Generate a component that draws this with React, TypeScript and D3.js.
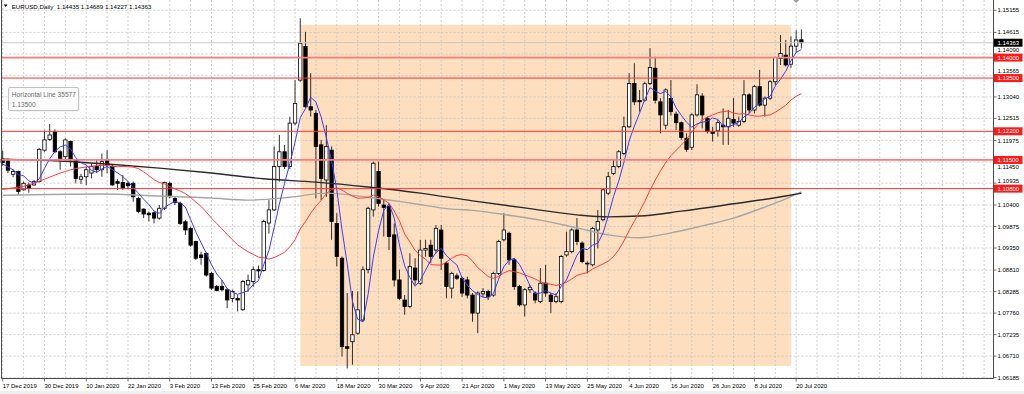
import React from "react";
import * as d3 from "d3";

// ---- Data (daily EURUSD, 17 Dec 2019 .. 21 Jul 2020) ----
const opens = [
  1.1152, 1.1148, 1.1115, 1.1122, 1.1077, 1.1089, 1.1089, 1.1097, 1.1174, 1.12,
  1.1219, 1.117, 1.1158, 1.1195, 1.115, 1.1103, 1.1109, 1.1118, 1.1134, 1.1126,
  1.115, 1.1134, 1.1097, 1.1095, 1.1093, 1.1093, 1.1056, 1.103, 1.102, 1.1021,
  1.1008, 1.1032, 1.1093, 1.1056, 1.1044, 1.0999, 1.0983, 1.0951, 1.0918, 1.0922,
  1.0873, 1.0841, 1.0841, 1.0833, 1.0812, 1.0812, 1.0784, 1.0845, 1.0853, 1.0882,
  1.088, 1.0996, 1.1028, 1.1134, 1.117, 1.1134, 1.124, 1.1345, 1.1427, 1.128,
  1.1264, 1.1187, 1.1101, 1.1174, 1.0995, 1.091, 1.0694, 1.0706, 1.0727, 1.0759,
  1.0882, 1.1028, 1.1122, 1.104, 1.1036, 1.0967, 1.0857, 1.0808, 1.0792, 1.0886,
  1.0849, 1.093, 1.0942, 1.093, 1.0979, 1.0898, 1.0837, 1.0867, 1.0861, 1.0857,
  1.082, 1.0776, 1.0823, 1.0829, 1.082, 1.0873, 1.0955, 1.0971, 1.0906, 1.0841,
  1.0796, 1.0833, 1.0825, 1.0804, 1.0849, 1.082, 1.0804, 1.0804, 1.0918, 1.0926,
  1.0979, 1.0947, 1.0898, 1.0894, 1.0979, 1.1004, 1.1069, 1.1117, 1.1134, 1.1166,
  1.1231, 1.1337, 1.1295, 1.1296, 1.1337, 1.1374, 1.1292, 1.1235, 1.13, 1.1262,
  1.1241, 1.1203, 1.1181, 1.126, 1.1306, 1.1252, 1.1219, 1.1221, 1.1235, 1.1231,
  1.1249, 1.1235, 1.1244, 1.1309, 1.1272, 1.1329, 1.1284, 1.1301, 1.1341, 1.1398,
  1.1406, 1.1384, 1.1428, 1.14435,
];
const highs = [
  1.1173, 1.1154, 1.1127, 1.1124, 1.1097, 1.1095, 1.1101, 1.1179, 1.1222, 1.1238,
  1.1225, 1.1174, 1.1203, 1.1197, 1.1152, 1.1116, 1.1134, 1.1142, 1.115, 1.1166,
  1.1174, 1.1138, 1.1103, 1.1113, 1.1097, 1.1097, 1.106, 1.1032, 1.1024, 1.1024,
  1.104, 1.1097, 1.1097, 1.106, 1.1048, 1.1004, 1.0987, 1.0953, 1.0926, 1.0924,
  1.0877, 1.0845, 1.0857, 1.0837, 1.0833, 1.082, 1.0857, 1.087, 1.089, 1.0892,
  1.1004, 1.1052, 1.1183, 1.1211, 1.1187, 1.1256, 1.1345, 1.1496, 1.1463, 1.1362,
  1.1272, 1.1199, 1.1235, 1.1183, 1.102, 1.0914, 1.0825, 1.083, 1.0829, 1.089,
  1.1036, 1.1146, 1.1146, 1.1052, 1.1044, 1.0995, 1.0882, 1.082, 1.0922, 1.091,
  1.0955, 1.0955, 1.0955, 1.0991, 1.0991, 1.0902, 1.0877, 1.0873, 1.0865, 1.0865,
  1.0825, 1.0829, 1.0837, 1.0833, 1.0877, 1.0955, 1.102, 1.0975, 1.091, 1.0845,
  1.0837, 1.0845, 1.0829, 1.0886, 1.0894, 1.0825, 1.0825, 1.0918, 1.0975, 1.0983,
  1.1008, 1.0951, 1.0902, 1.0987, 1.1028, 1.1081, 1.1121, 1.115, 1.1174, 1.1256,
  1.1362, 1.1386, 1.1321, 1.1341, 1.1423, 1.1402, 1.1301, 1.1325, 1.1345, 1.1268,
  1.1244, 1.1215, 1.1264, 1.1335, 1.1313, 1.1256, 1.1231, 1.1248, 1.1276, 1.1272,
  1.1301, 1.1256, 1.1345, 1.1313, 1.1333, 1.137, 1.1305, 1.1345, 1.1402, 1.1455,
  1.1443, 1.1452, 1.1467, 1.14689,
];
const lows = [
  1.1136, 1.1118, 1.1108, 1.1065, 1.1075, 1.107, 1.1087, 1.1095, 1.117, 1.1197,
  1.1166, 1.1126, 1.1146, 1.1134, 1.1093, 1.1091, 1.1089, 1.1105, 1.1118, 1.1109,
  1.1118, 1.1087, 1.1077, 1.1077, 1.1078, 1.1048, 1.102, 1.1008, 1.1, 1.0995,
  1.1004, 1.1028, 1.1056, 1.104, 1.0991, 1.0967, 1.0938, 1.0906, 1.0894, 1.0865,
  1.0833, 1.0829, 1.0829, 1.0788, 1.0802, 1.078, 1.0782, 1.0828, 1.084, 1.0862,
  1.0877, 1.097, 1.1025, 1.1097, 1.1128, 1.1128, 1.1235, 1.1341, 1.1276, 1.1256,
  1.1056, 1.1052, 1.106, 1.0955, 1.089, 1.067, 1.0641, 1.065, 1.0723, 1.0755,
  1.0873, 1.1012, 1.1036, 1.0963, 1.093, 1.0841, 1.0808, 1.0772, 1.0788, 1.0845,
  1.0845, 1.0914, 1.0898, 1.0922, 1.0881, 1.0812, 1.0812, 1.0857, 1.0816, 1.0812,
  1.0755, 1.0727, 1.0816, 1.0808, 1.0816, 1.0869, 1.0951, 1.0894, 1.0833, 1.0792,
  1.0768, 1.0825, 1.08, 1.08, 1.0816, 1.0776, 1.08, 1.08, 1.0914, 1.0922,
  1.0942, 1.0898, 1.0873, 1.089, 1.0934, 1.1, 1.1064, 1.1113, 1.113, 1.1162,
  1.1228, 1.1284, 1.1268, 1.1292, 1.1333, 1.1288, 1.1215, 1.1225, 1.1258, 1.1223,
  1.1199, 1.117, 1.1174, 1.1256, 1.1227, 1.1215, 1.1195, 1.1207, 1.1187, 1.1187,
  1.1231, 1.1231, 1.124, 1.1264, 1.1264, 1.128, 1.1256, 1.1296, 1.1333, 1.1382,
  1.1378, 1.1375, 1.1412, 1.14227,
];
const closes = [
  1.1144, 1.1125, 1.1122, 1.1073, 1.1093, 1.1081, 1.1097, 1.1176, 1.1199, 1.1211,
  1.117, 1.1154, 1.1199, 1.115, 1.1105, 1.1109, 1.1126, 1.1134, 1.1126, 1.1146,
  1.1138, 1.1089, 1.1093, 1.1081, 1.1087, 1.106, 1.1024, 1.1018, 1.1016, 1.1008,
  1.1032, 1.1095, 1.106, 1.1046, 1.0995, 1.0979, 1.0942, 1.091, 1.0912, 1.0869,
  1.0837, 1.0831, 1.0833, 1.0808, 1.0829, 1.0808, 1.0853, 1.0856, 1.0882, 1.0879,
  1.1, 1.1028, 1.1134, 1.117, 1.1134, 1.124, 1.1288, 1.1435, 1.128, 1.1272,
  1.1183, 1.1105, 1.1183, 1.1, 1.0914, 1.0694, 1.069, 1.0723, 1.0784, 1.0882,
  1.1032, 1.1142, 1.1044, 1.1034, 1.0963, 1.0857, 1.0812, 1.0792, 1.089, 1.0857,
  1.093, 1.0934, 1.0914, 1.0983, 1.091, 1.0841, 1.0873, 1.0861, 1.0825, 1.082,
  1.0776, 1.0825, 1.0829, 1.0816, 1.0873, 1.0951, 1.0979, 1.0906, 1.0841, 1.0796,
  1.0833, 1.0839, 1.0808, 1.0849, 1.0825, 1.0804, 1.0816, 1.0914, 1.0926, 1.0979,
  1.0951, 1.0902, 1.0896, 1.0983, 1.1, 1.1077, 1.1109, 1.1134, 1.117, 1.1231,
  1.1337, 1.1292, 1.1292, 1.1336, 1.1376, 1.1296, 1.126, 1.1321, 1.1268, 1.1241,
  1.1205, 1.1176, 1.126, 1.1309, 1.126, 1.1219, 1.1215, 1.1241, 1.1231, 1.1252,
  1.124, 1.1244, 1.1309, 1.1272, 1.1329, 1.1284, 1.1301, 1.1341, 1.14, 1.141,
  1.1382, 1.1428, 1.1443, 1.14363,
];

// Fast moving average (blue)
const maFast = [
  1.114, 1.1133, 1.1126, 1.1114, 1.11114, 1.10988, 1.10932, 1.1104, 1.11292, 1.11528,
  1.11706, 1.1182, 1.11866, 1.11768, 1.11556, 1.11434, 1.11378, 1.11248, 1.112, 1.11282,
  1.1134, 1.11266, 1.11184, 1.11094, 1.10976, 1.1082, 1.1069, 1.1054, 1.1041, 1.10252,
  1.10196, 1.10338, 1.10422, 1.10482, 1.10456, 1.1035, 1.10044, 1.09744, 1.09476, 1.09224,
  1.0894, 1.08718, 1.08564, 1.08356, 1.08276, 1.08218, 1.08262, 1.08308, 1.08456, 1.08556,
  1.0894, 1.0929, 1.09846, 1.10422, 1.10932, 1.11412, 1.11932, 1.12534, 1.12754, 1.1303,
  1.12916, 1.1255, 1.12046, 1.11486, 1.1077, 1.09792, 1.08962, 1.08042, 1.0761, 1.07546,
  1.08222, 1.09126, 1.09768, 1.10268, 1.1043, 1.1008, 1.0942, 1.08916, 1.08628, 1.08416,
  1.08562, 1.08806, 1.0905, 1.09236, 1.09342, 1.09164, 1.09042, 1.08936, 1.0862, 1.0844,
  1.0831, 1.08214, 1.0815, 1.08132, 1.08238, 1.08588, 1.08896, 1.0905, 1.091, 1.08946,
  1.0871, 1.0843, 1.08234, 1.0825, 1.08308, 1.0825, 1.08204, 1.08416, 1.0857, 1.08878,
  1.09172, 1.09344, 1.09308, 1.09422, 1.09464, 1.09716, 1.1013, 1.10606, 1.1098, 1.11442,
  1.11962, 1.12328, 1.12644, 1.12976, 1.13266, 1.13184, 1.1312, 1.13178, 1.13042, 1.12772,
  1.1259, 1.12422, 1.123, 1.12382, 1.1242, 1.12448, 1.12526, 1.12488, 1.12332, 1.12316,
  1.12358, 1.12416, 1.12552, 1.12634, 1.12788, 1.12876, 1.1299, 1.13054, 1.1331, 1.13472,
  1.13668, 1.13922, 1.14126, 1.14198,
];

// Medium moving average (red)
const maMid = [
  1.1078, 1.108, 1.1082, 1.1084, 1.1086, 1.1089, 1.1093, 1.1098, 1.1103, 1.1108,
  1.1113, 1.1118, 1.1122, 1.1126, 1.1129, 1.1131, 1.1133, 1.1135, 1.1136, 1.1137,
  1.11367, 1.11349, 1.11335, 1.11339, 1.11336, 1.11325, 1.11289, 1.1121, 1.11118, 1.11017,
  1.10948, 1.10918, 1.10849, 1.10797, 1.10742, 1.10677, 1.10585, 1.10473, 1.10366, 1.10227,
  1.10077, 1.09948, 1.09818, 1.09681, 1.09552, 1.09426, 1.0934, 1.0926, 1.09193, 1.09128,
  1.09112, 1.09079, 1.09116, 1.09178, 1.09247, 1.09378, 1.09551, 1.09813, 1.09997, 1.10199,
  1.10372, 1.10509, 1.10684, 1.1078, 1.10822, 1.10765, 1.10684, 1.10617, 1.10568, 1.1057,
  1.10586, 1.10643, 1.10598, 1.1053, 1.10444, 1.10253, 1.10015, 1.09693, 1.09498, 1.09291,
  1.09164, 1.09079, 1.08944, 1.08936, 1.08934, 1.09007, 1.09099, 1.09168, 1.09188, 1.09157,
  1.09029, 1.08871, 1.08763, 1.08654, 1.08609, 1.08656, 1.0874, 1.08797, 1.08772, 1.08742,
  1.08693, 1.08646, 1.08593, 1.08526, 1.08483, 1.08465, 1.08436, 1.08463, 1.08513, 1.08593,
  1.0868, 1.08719, 1.08752, 1.08836, 1.08899, 1.08962, 1.09027, 1.09141, 1.09306, 1.09523,
  1.09775, 1.10002, 1.10244, 1.10487, 1.10763, 1.11009, 1.11231, 1.11434, 1.11605, 1.11736,
  1.11863, 1.12, 1.12182, 1.12345, 1.12475, 1.12546, 1.12599, 1.12653, 1.12683, 1.12694,
  1.12645, 1.12621, 1.1263, 1.12598, 1.12574, 1.12568, 1.12589, 1.12599, 1.12665, 1.12749,
  1.12838, 1.12964, 1.13055, 1.13119,
];

// Slow moving averages, read at sample bars: [bar index, price]
const maSlowDark: [number, number][] = [
  [0, 1.1152], [10, 1.1148], [20, 1.114], [30, 1.113], [40, 1.1118], [50, 1.1104],
  [60, 1.1096], [70, 1.1084], [80, 1.1069], [90, 1.105], [100, 1.1033], [110, 1.1016],
  [116, 1.1011], [122, 1.1013], [130, 1.1025], [140, 1.1043], [150, 1.1062], [153, 1.1069],
];
const maSlowGrey: [number, number][] = [
  [0, 1.1064], [19, 1.1067], [30, 1.1062], [40, 1.1057], [47, 1.1052], [55, 1.1059],
  [62, 1.1069], [70, 1.1059], [78, 1.1045], [86, 1.103], [90, 1.1027], [97, 1.1015],
  [103, 1.1003], [110, 1.0984], [116, 1.0967], [122, 1.096], [128, 1.0972], [134, 1.0989],
  [140, 1.1008], [146, 1.1035], [150, 1.1055], [153, 1.1072],
];

const dateLabels = [
  "17 Dec 2019", "30 Dec 2019", "10 Jan 2020", "22 Jan 2020", "3 Feb 2020",
  "13 Feb 2020", "25 Feb 2020", "6 Mar 2020", "18 Mar 2020", "30 Mar 2020",
  "9 Apr 2020", "21 Apr 2020", "1 May 2020", "13 May 2020", "25 May 2020",
  "4 Jun 2020", "16 Jun 2020", "26 Jun 2020", "8 Jul 2020", "20 Jul 2020",
];
const priceTicks = [
  1.15155, 1.14615, 1.1409, 1.13565, 1.1304, 1.12515, 1.11975, 1.1145, 1.10935,
  1.104, 1.09875, 1.0935, 1.0881, 1.08285, 1.0776, 1.07235, 1.0671, 1.06185,
];
const levels = [1.14, 1.135, 1.122, 1.115, 1.108];
const bidPrice = 1.14363;
const titleSymbol = "EURUSD,Daily";
const titleOHLC = ["1.14435", "1.14689", "1.14227", "1.14363"];
const zoneStartBar = 57;
const zoneEndBar = 151;
const zoneTop = 1.148;
const zoneBottom = 1.0647;
const noteTitle = "Horizontal Line 35577";
const noteValue = "1.13500";

export default function App() {
  const W = 1024;
  const H = 394;
  const plotL = 1.5;
  const plotR = 993.5;
  const plotB = 378.5;
  const font = "'Liberation Sans', Arial, sans-serif";
  const n = closes.length;

  const x = d3.scaleLinear().domain([0, 153]).range([2.7, 801.4]);
  const y = d3.scaleLinear().domain([1.06185, 1.15155]).range([377.6, 10.3]);

  const gridBars = d3.range(0, 189, 4);
  const labelBars = dateLabels.map((_, k) => k * 8);

  const lineSeries = d3
    .line<number>()
    .x((_, i) => x(i))
    .y((d) => y(d));
  const lineSparse = d3
    .line<[number, number]>()
    .x((d) => x(d[0]))
    .y((d) => y(d[1]))
    .curve(d3.curveMonotoneX);

  const accent = new Set([1.14, 1.115]);
  const fmt = d3.format(".5f");
  const tagPrices = [...levels, bidPrice];
  const tagHalf = 4;

  // place a scale label next to a price tag that would cover it
  const labelY = (p: number) => {
    const yp = y(p);
    let best: number | null = null;
    tagPrices.forEach((t) => {
      const yt = y(t);
      if (Math.abs(yt - yp) < 7.5 && (best === null || Math.abs(yt - yp) < Math.abs(best - yp))) best = yt;
    });
    if (best === null) return yp;
    return yp < best ? best - tagHalf - 3.2 : best + tagHalf + 3.2;
  };

  return (
    <svg
      width={W}
      height={H}
      viewBox={`0 0 ${W} ${H}`}
      style={{ position: "absolute", left: 0, top: 0, display: "block", background: "#fff" }}
      fontFamily={font}
    >
      <rect x={0} y={0} width={W} height={H} fill="#fff" />
      <rect x={0} y={391} width={W} height={3} fill="#efefef" />

      {/* highlighted zone */}
      <rect
        x={x(zoneStartBar)}
        y={y(zoneTop)}
        width={x(zoneEndBar) - x(zoneStartBar)}
        height={y(zoneBottom) - y(zoneTop)}
        fill="#fddfbf"
      />

      {/* grid */}
      <g stroke="#c4c4c4" strokeWidth={0.8} strokeDasharray="2,2">
        {gridBars.map((b) => (
          <line key={"gv" + b} x1={x(b)} x2={x(b)} y1={0} y2={plotB} />
        ))}
        {priceTicks.map((p) => (
          <line key={"gh" + p} x1={plotL} x2={plotR} y1={y(p)} y2={y(p)} />
        ))}
      </g>

      {/* candles */}
      <g>
        {d3.range(n).map((i) => {
          const o = opens[i];
          const c = closes[i];
          const cx = x(i);
          const top = y(Math.max(o, c));
          const bot = y(Math.min(o, c));
          const bull = c >= o;
          return (
            <g key={"c" + i}>
              <line x1={cx} x2={cx} y1={y(highs[i])} y2={y(lows[i])} stroke="#1a1a1a" strokeWidth={0.9} />
              <rect
                x={cx - 1.7}
                y={top}
                width={3.4}
                height={Math.max(bot - top, 0.8)}
                fill={bull ? "#fff" : "#000"}
                stroke="#000"
                strokeWidth={0.8}
              />
            </g>
          );
        })}
      </g>

      {/* moving averages */}
      <path d={lineSparse(maSlowGrey) || ""} fill="none" stroke="#a6a6a6" strokeWidth={1.4} />
      <path d={lineSparse(maSlowDark) || ""} fill="none" stroke="#2a2a2a" strokeWidth={1.4} />
      <path d={lineSeries(maMid) || ""} fill="none" stroke="#ff3b3b" strokeWidth={1} />
      <path d={lineSeries(maFast) || ""} fill="none" stroke="#3b3bff" strokeWidth={1} />

      {/* horizontal levels */}
      {levels.map((lv) => (
        <line
          key={"lv" + lv}
          x1={plotL}
          x2={plotR}
          y1={y(lv)}
          y2={y(lv)}
          stroke={accent.has(lv) ? "#ff7a7a" : "#ff3030"}
          strokeWidth={accent.has(lv) ? 1.8 : 1}
        />
      ))}

      {/* bid line */}
      <line x1={plotL} x2={plotR} y1={y(bidPrice)} y2={y(bidPrice)} stroke="#c8c8c8" strokeWidth={1} />

      {/* chart shift marker */}
      <polygon points={`${x(152) - 3},0 ${x(152) + 3},0 ${x(152)},3`} fill="#a0a0a0" />

      {/* frame */}
      <g stroke="#4a4a4a" strokeWidth={1}>
        <line x1={plotL} x2={plotL} y1={0} y2={plotB} />
        <line x1={plotR} x2={plotR} y1={0} y2={plotB} />
        <line x1={plotL} x2={plotR} y1={plotB} y2={plotB} />
      </g>

      {/* right axis */}
      <g fontSize={6} fill="#000">
        {priceTicks.map((p) => (
          <g key={"pt" + p}>
            <line x1={plotR} x2={plotR + 3} y1={y(p)} y2={y(p)} stroke="#4a4a4a" strokeWidth={0.8} />
            <text x={997.5} y={labelY(p)} dominantBaseline="central">
              {fmt(p)}
            </text>
          </g>
        ))}
      </g>
      {levels.map((lv) => (
        <g key={"tag" + lv}>
          <rect x={994} y={y(lv) - tagHalf} width={28.5} height={tagHalf * 2} fill="#ff1a1a" />
          <text x={997.5} y={y(lv)} dominantBaseline="central" fontSize={6} fill="#fff">
            {fmt(lv)}
          </text>
        </g>
      ))}
      <rect x={994} y={y(bidPrice) - tagHalf} width={28.5} height={tagHalf * 2} fill="#000" />
      <text x={997.5} y={y(bidPrice)} dominantBaseline="central" fontSize={6} fill="#fff">
        {fmt(bidPrice)}
      </text>

      {/* bottom axis */}
      <g fontSize={6} fill="#000">
        {labelBars.map((b, k) => (
          <g key={"dl" + b}>
            <line x1={x(b)} x2={x(b)} y1={plotB} y2={plotB + 3} stroke="#4a4a4a" strokeWidth={0.8} />
            <text x={x(b)} y={385.8} dominantBaseline="central">
              {dateLabels[k]}
            </text>
          </g>
        ))}
      </g>

      {/* title */}
      <polygon points="3.8,4.6 7.6,4.6 5.7,7" fill="#000" />
      <text x={11.7} y={6} fontSize={6.2} dominantBaseline="central" fill="#000" style={{ whiteSpace: "pre" }}>
        {titleSymbol + "  " + titleOHLC.join(" ")}
      </text>

      {/* object tooltip */}
      <rect x={9.5} y={88.5} width={70} height={23} fill="#d8d8d8" rx={1.5} opacity={0.6} />
      <rect x={8.5} y={87.5} width={70} height={23} fill="#fbfbfb" stroke="#b4b4b4" strokeWidth={0.8} rx={1.5} />
      <text x={11.8} y={94.3} fontSize={6.6} fill="#6e6e6e" dominantBaseline="central">
        {noteTitle}
      </text>
      <text x={11.8} y={104.3} fontSize={6.6} fill="#6e6e6e" dominantBaseline="central">
        {noteValue}
      </text>
    </svg>
  );
}
